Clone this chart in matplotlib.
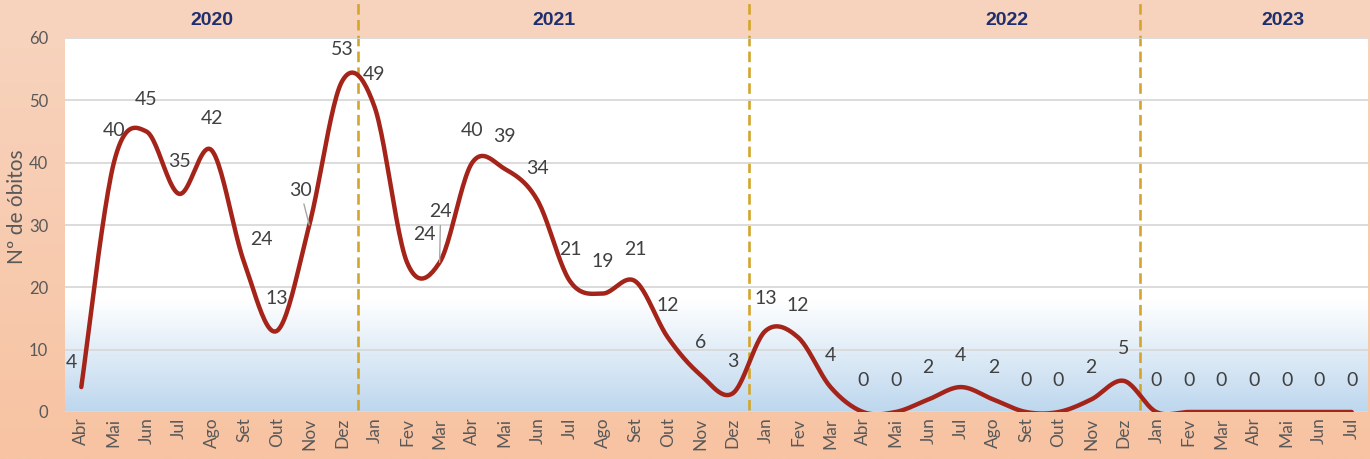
"""
Óbitos por mês (Abr 2020 – Jul 2023), linha suavizada com rótulos
"""

import numpy as np
import matplotlib.pyplot as plt
import matplotlib.transforms as mtransforms
from matplotlib.colors import LinearSegmentedColormap

meses = ["Abr", "Mai", "Jun", "Jul", "Ago", "Set", "Out", "Nov", "Dez",
         "Jan", "Fev", "Mar", "Abr", "Mai", "Jun", "Jul", "Ago", "Set", "Out", "Nov", "Dez",
         "Jan", "Fev", "Mar", "Abr", "Mai", "Jun", "Jul", "Ago", "Set", "Out", "Nov", "Dez",
         "Jan", "Fev", "Mar", "Abr", "Mai", "Jun", "Jul"]
obitos = [4, 40, 45, 35, 42, 24, 13, 30, 53,
          49, 24, 24, 40, 39, 34, 21, 19, 21, 12, 6, 3,
          13, 12, 4, 0, 0, 2, 4, 2, 0, 0, 2, 5,
          0, 0, 0, 0, 0, 0, 0]
anos = ["2020", "2021", "2022", "2023"]
ano_pos = [4.0, 14.5, 28.4, 36.9]      # where the header labels sit
divisorias = [8.5, 20.5, 32.5]

# label offsets in pixels (dx, dy up); default sits above the point
offsets = {0: (-10, 25), 5: (17, 23), 7: (-9, 35), 10: (17, 28), 11: (1, 51)}
com_guia = {7, 11}

plt.rcParams["font.family"] = ["Lato", "DejaVu Sans"]

x = np.arange(len(obitos))
y = np.array(obitos, dtype=float)


def suavizar(xs, ys, n=24):
    # Catmull-Rom -> Bezier, like Excel's smoothed line
    px, py = [], []
    N = len(xs)
    for i in range(N - 1):
        i0 = max(i - 1, 0)
        i3 = min(i + 2, N - 1)
        p0 = np.array([xs[i], ys[i]])
        p1 = np.array([xs[i + 1], ys[i + 1]])
        c1 = p0 + (p1 - np.array([xs[i0], ys[i0]])) / 6
        c2 = p1 - (np.array([xs[i3], ys[i3]]) - p0) / 6
        t = np.linspace(0, 1, n, endpoint=(i == N - 2))[:, None]
        pts = ((1 - t) ** 3) * p0 + 3 * ((1 - t) ** 2) * t * c1 + 3 * (1 - t) * t ** 2 * c2 + t ** 3 * p1
        px.extend(pts[:, 0])
        py.extend(pts[:, 1])
    return np.array(px), np.array(py)


fig = plt.figure(figsize=(13.7, 4.59), dpi=100)

# chart area background gradient
bg = fig.add_axes([0, 0, 1, 1], zorder=-10)
bg_cmap = LinearSegmentedColormap.from_list("bg", ["#F7C3A2", "#F8D4BF"])
bg.imshow(np.linspace(0, 1, 256)[:, None], aspect="auto", cmap=bg_cmap,
          origin="lower", extent=[0, 1, 0, 1])
bg.set_axis_off()

ax = fig.add_axes([65 / 1370, 47 / 459, 1303 / 1370, 374 / 459])
ax.set_xlim(-0.5, len(obitos) - 0.5)
ax.set_ylim(0, 60)

# plot area gradient: white above ~18, light blue at 0
pa_cmap = LinearSegmentedColormap.from_list("pa", [(0, "#BDD7EE"), (0.3, "#FFFFFF"), (1, "#FFFFFF")])
ax.imshow(np.linspace(0, 1, 256)[:, None], aspect="auto", cmap=pa_cmap,
          origin="lower", extent=[-0.5, len(obitos) - 0.5, 0, 60], zorder=0)

ax.set_yticks(range(0, 61, 10))
ax.grid(axis="y", color="#D9D9D9", linewidth=1.3, zorder=1)
ax.set_axisbelow(False)
for s in ax.spines.values():
    s.set_visible(False)

ax.set_xticks(x)
ax.set_xticklabels(meses, rotation=90, fontsize=12.5, color="#595959")
ax.tick_params(axis="x", length=0, pad=4)
ax.tick_params(axis="y", length=0, pad=12, labelsize=12, labelcolor="#595959")
ax.set_ylabel("Nº de óbitos", fontsize=15, color="#595959")
ax.yaxis.set_label_coords(-0.029, 0.55)

# year separators, running up through the header
for d in divisorias:
    ax.axvline(d, ymin=0.005, ymax=412 / 374, color="#D4A52C", linewidth=1.9,
               linestyle=(0, (4, 2)), clip_on=False, zorder=2)

trans = mtransforms.blended_transform_factory(ax.transData, ax.transAxes)
for ano, p in zip(anos, ano_pos):
    ax.text(p, 1.048, ano, transform=trans, ha="center", va="center",
            fontsize=14, fontweight="bold", color="#1F2F6E",
            family=["Liberation Sans", "DejaVu Sans"])

sx, sy = suavizar(x, y)
ax.plot(sx, sy, color="#A5241A", linewidth=3.2, solid_capstyle="round", zorder=3)

for i, v in enumerate(obitos):
    dx, dy = offsets.get(i, (0, 32))
    kw = {}
    if i in com_guia:
        kw["arrowprops"] = dict(arrowstyle="-", color="#A6A6A6", lw=1, shrinkA=2, shrinkB=0)
    ax.annotate(str(v), (x[i], v), xytext=(dx * 0.72, dy * 0.72), textcoords="offset points",
                ha="center", va="center", fontsize=14, color="#404040", zorder=4,
                annotation_clip=False, **kw)

plt.savefig("out.png", dpi=100)
